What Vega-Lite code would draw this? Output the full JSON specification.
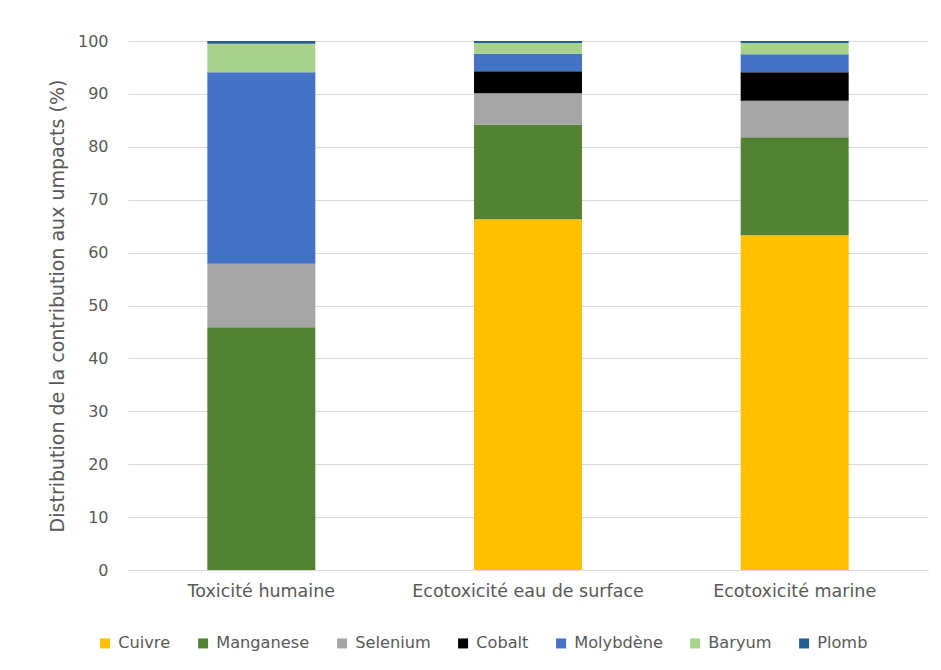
{
  "$schema": "https://vega.github.io/schema/vega-lite/v6.json",
  "width": 800,
  "height": 529,
  "autosize": {"type": "none"},
  "padding": {"left": 128, "top": 41, "right": 13, "bottom": 100},
  "background": "white",
  "data": {"values": [
    {"cat": "Toxicité humaine", "metal": "Cuivre", "rang": 1, "v": 0},
    {"cat": "Toxicité humaine", "metal": "Manganese", "rang": 2, "v": 45.9},
    {"cat": "Toxicité humaine", "metal": "Selenium", "rang": 3, "v": 12.0},
    {"cat": "Toxicité humaine", "metal": "Cobalt", "rang": 4, "v": 0},
    {"cat": "Toxicité humaine", "metal": "Molybdène", "rang": 5, "v": 36.2},
    {"cat": "Toxicité humaine", "metal": "Baryum", "rang": 6, "v": 5.4},
    {"cat": "Toxicité humaine", "metal": "Plomb", "rang": 7, "v": 0.5},
    {"cat": "Ecotoxicité eau de surface", "metal": "Cuivre", "rang": 1, "v": 66.3},
    {"cat": "Ecotoxicité eau de surface", "metal": "Manganese", "rang": 2, "v": 17.9},
    {"cat": "Ecotoxicité eau de surface", "metal": "Selenium", "rang": 3, "v": 5.9},
    {"cat": "Ecotoxicité eau de surface", "metal": "Cobalt", "rang": 4, "v": 4.2},
    {"cat": "Ecotoxicité eau de surface", "metal": "Molybdène", "rang": 5, "v": 3.3},
    {"cat": "Ecotoxicité eau de surface", "metal": "Baryum", "rang": 6, "v": 2.0},
    {"cat": "Ecotoxicité eau de surface", "metal": "Plomb", "rang": 7, "v": 0.4},
    {"cat": "Ecotoxicité marine", "metal": "Cuivre", "rang": 1, "v": 63.3},
    {"cat": "Ecotoxicité marine", "metal": "Manganese", "rang": 2, "v": 18.5},
    {"cat": "Ecotoxicité marine", "metal": "Selenium", "rang": 3, "v": 6.9},
    {"cat": "Ecotoxicité marine", "metal": "Cobalt", "rang": 4, "v": 5.4},
    {"cat": "Ecotoxicité marine", "metal": "Molybdène", "rang": 5, "v": 3.4},
    {"cat": "Ecotoxicité marine", "metal": "Baryum", "rang": 6, "v": 2.1},
    {"cat": "Ecotoxicité marine", "metal": "Plomb", "rang": 7, "v": 0.4}
  ]},
  "mark": {"type": "bar"},
  "encoding": {
    "x": {
      "field": "cat", "type": "nominal", "sort": null,
      "scale": {"paddingInner": 0.595, "paddingOuter": 0.2975},
      "axis": {"title": null, "labelAngle": 0, "labelLimit": 0, "ticks": false, "domainColor": "#d9d9d9", "labelColor": "#595959", "labelFont": "DejaVu Sans", "labelFontSize": 17.5, "labelPadding": 12}
    },
    "y": {
      "field": "v", "type": "quantitative", "stack": "zero",
      "scale": {"domain": [0, 100], "nice": false},
      "axis": {"title": "Distribution de la contribution aux umpacts  (%)", "values": [0,10,20,30,40,50,60,70,80,90,100], "domain": false, "ticks": false, "gridColor": "#d9d9d9", "labelColor": "#595959", "labelFont": "DejaVu Sans", "labelFontSize": 16, "labelPadding": 20, "titleFont": "DejaVu Sans", "titleFontSize": 19, "titleFontWeight": "normal", "titleColor": "#595959", "titlePadding": 10}
    },
    "color": {
      "field": "metal", "type": "nominal",
      "scale": {"domain": ["Cuivre", "Manganese", "Selenium", "Cobalt", "Molybdène", "Baryum", "Plomb"],
                "range": ["#FFC000", "#548235", "#A5A5A5", "#000000", "#4472C4", "#A9D18E", "#255E91"]},
      "legend": {"title": null, "orient": "none", "direction": "horizontal", "legendX": -31, "legendY": 594, "symbolType": "square", "symbolSize": 100, "symbolStrokeWidth": 0, "labelFont": "DejaVu Sans", "labelFontSize": 16.2, "labelColor": "#595959", "labelOffset": 5, "columnPadding": 24}
    },
    "order": {"field": "rang", "type": "quantitative", "sort": "ascending"}
  },
  "config": {"view": {"stroke": null}}
}
